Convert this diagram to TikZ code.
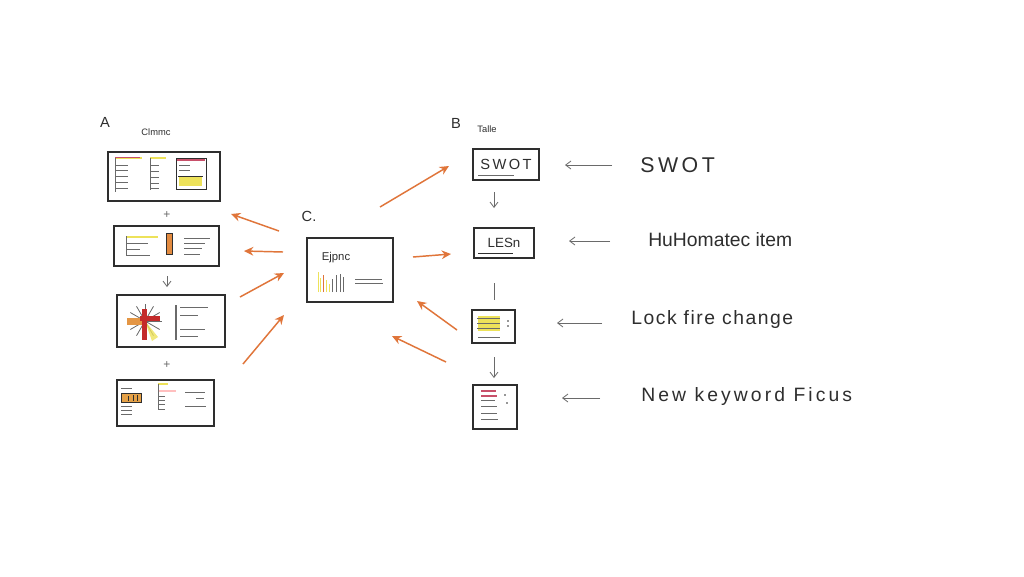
\documentclass[tikz,border=0pt]{standalone}
\usepackage{fontspec}
\setmainfont{Liberation Sans}
\usetikzlibrary{arrows.meta}
\definecolor{ink}{HTML}{2E2E2E}
\definecolor{org}{HTML}{E0753A}
\definecolor{yel}{HTML}{EDE25A}
\definecolor{pinkred}{HTML}{C8506A}
\definecolor{redd}{HTML}{C42A2A}
\definecolor{grl}{HTML}{6A6A6A}
\tikzset{
  box/.style={draw=ink, line width=1.1pt, fill=white, inner sep=0pt},
  oarrow/.style={draw=org, line width=1.1pt, -{Stealth[length=7pt,width=6.5pt]}},
  tarrow/.style={draw=grl, line width=0.6pt, -{Straight Barb[length=4pt,width=6pt]}},
  tline/.style={draw=grl, line width=0.6pt},
  gl/.style={draw=grl, line width=0.6pt},
  lbl/.style={font=\fontsize{11}{13}\selectfont, text=ink, inner sep=0pt},
  tiny/.style={font=\fontsize{7}{8}\selectfont, text=ink, inner sep=0pt},
  side/.style={font=\fontsize{14.5}{17}\selectfont, text=ink, inner sep=0pt, anchor=west},
}
\begin{document}
\begin{tikzpicture}[x=0.75pt,y=-0.75pt]
\useasboundingbox[fill=white] (0,0) rectangle (1024,576);

% ---------- labels
\node[lbl] (la) at (105,122) {A};
\node[tiny] (lcl) at (156,132) {Clmmc};
\node[lbl] (lb) at (456,123) {B};
\node[tiny] (ltab) at (487,129) {Talle};
\node[lbl] (lc) at (309,216) {C.};

% ---------- column A boxes
\node[box, minimum width=84pt, minimum height=36.75pt] (a1) at (164,176.5) {};
\node[box, minimum width=78.75pt, minimum height=30pt] (a2) at (166.5,246) {};
\node[box, minimum width=81pt, minimum height=39pt] (a3) at (171,321) {};
\node[box, minimum width=72.75pt, minimum height=34.5pt] (a4) at (165.5,403) {};

% A1 contents
\draw[yel, line width=1.4pt] (115,158) -- (142,158);
\draw[pinkred, line width=0.5pt] (115,157) -- (140,157);
\foreach \y in {165,170,176,182,188} \draw[gl] (116,\y) -- (128,\y);
\draw[gl] (115,158) -- (115,192);
\draw[yel, line width=1.4pt] (150,158) -- (166,158);
\foreach \y in {165,171,177,183,188} \draw[gl] (151,\y) -- (159,\y);
\draw[gl] (150,158) -- (150,190);
\draw[ink, line width=0.7pt] (176,158) rectangle (206,189);
\draw[pinkred, line width=1pt] (177,160) -- (205,160);
\foreach \y in {165,170} \draw[gl] (179,\y) -- (190,\y);
\fill[yel] (179,177) rectangle (202,186);
\draw[ink, line width=0.5pt] (178,176) -- (203,176);

% A2 contents
\draw[yel, line width=1.6pt] (126,237) -- (158,237);
\draw[gl] (126,236) -- (126,256);
\foreach \y/\l in {243/148,249/140,255/150} \draw[gl] (126,\y) -- (\l,\y);
\draw[ink, fill=org!80!yel, line width=0.6pt] (166,233) rectangle (172,254);
\foreach \y/\l in {238/210,243/205,248/202,254/200} \draw[gl] (184,\y) -- (\l,\y);

% A3 contents
\foreach \a in {0,30,...,330} \draw[gl] (145,321) -- ++(\a:17);
\fill[yel, opacity=0.8] (145,321) -- (158,337) -- (152,341) -- cycle;
\fill[org!70!yel] (127,318) rectangle (145,325);
\fill[redd] (140,316) rectangle (160,321);
\fill[redd] (142,309) rectangle (147,340);
\draw[gl, line width=0.8pt] (176,305) -- (176,340);
\foreach \y/\l in {307/208,315/198,329/205,336/198} \draw[gl] (180,\y) -- (\l,\y);

% A4 contents
\foreach \y in {388,406,410,414} \draw[gl] (121,\y) -- (132,\y);
\fill[org!60!yel] (121,393) rectangle (141,402);
\draw[ink, line width=0.5pt] (121,393) rectangle (141,402);
\draw[ink, line width=0.5pt] (128,396) -- (128,401) (133,395) -- (133,401) (137,395) -- (137,401);
\draw[yel, line width=1.6pt] (158,384) -- (168,384);
\draw[pink, line width=1.6pt] (158,391) -- (176,391);
\draw[gl] (158,384) -- (158,410);
\foreach \y in {396,400,404,409} \draw[gl] (159,\y) -- (165,\y);
\draw[gl] (185,392) -- (205,392);
\draw[gl] (196,398) -- (204,398);
\draw[gl] (185,406) -- (206,406);

% plus signs / arrows between A boxes
\node[font=\fontsize{9}{10}\selectfont, text=grl, inner sep=0pt] (p1) at (167,215) {+};
\node[font=\fontsize{9}{10}\selectfont, text=grl, inner sep=0pt] (p2) at (167,365) {+};
\coordinate (ad1) at (167,276);
\coordinate (ad2) at (167,287);
\draw[tarrow] (ad1) -- (ad2);

% ---------- C box
\node[box, minimum width=64.5pt, minimum height=48pt] (cbox) at (350,270) {};
\node[font=\fontsize{8.5}{10}\selectfont, text=ink, inner sep=0pt] (ctxt) at (336,258) {Ejpnc};
\foreach \x/\h/\c in {318/20/yel,320/14/yel,323/17/org,326/12/yel,329/8/yel,332/13/grl,336/17/grl,340/18/grl,343/15/grl}
  \draw[\c, line width=0.7pt] (\x,292) -- (\x,292-\h);
\draw[gl] (355,279) -- (382,279);
\draw[gl] (355,283) -- (383,283);

% ---------- column B boxes
\node[box, minimum width=49.5pt, minimum height=23.25pt, font=\fontsize{11}{12}\selectfont, text=ink] (b1) at (506,164.5) {S\,W\,O\,T};
\draw[grl, line width=0.5pt] (478,175) -- (514,175);
\node[box, minimum width=45pt, minimum height=22.5pt, font=\fontsize{10}{12}\selectfont, text=ink] (b2) at (504,243) {LESn};
\draw[ink, line width=0.5pt] (478,253) -- (513,253);
\node[box, minimum width=32.25pt, minimum height=24.75pt] (b3) at (493.5,326.5) {};
\fill[yel] (478,316) rectangle (500,331);
\foreach \y in {318,323,328} \draw[grl, line width=0.5pt] (477,\y) -- (500,\y);
\draw[gl] (478,337) -- (500,337);
\fill[ink] (508,321) circle (0.9);
\fill[ink] (508,326) circle (0.9);
\node[box, minimum width=33pt, minimum height=33pt] (b4) at (495,407) {};
\draw[pinkred, line width=1.1pt] (481,391) -- (496,391);
\draw[pinkred, line width=1.1pt] (481,396) -- (497,396);
\foreach \y/\l in {400/495,406/497,413/497,419/498} \draw[gl] (481,\y) -- (\l,\y);
\fill[ink] (505,395) circle (0.9);
\fill[ink] (507,403) circle (0.9);

\coordinate (bd1) at (494,192);
\coordinate (bd2) at (494,208);
\draw[tarrow] (bd1) -- (bd2);
\coordinate (bl1) at (494,283);
\coordinate (bl2) at (494,300);
\draw[tline] (bl1) -- (bl2);
\coordinate (ba1) at (494,357);
\coordinate (ba2) at (494,378);
\draw[tarrow] (ba1) -- (ba2);

% ---------- side texts and thin arrows
\node[side, font=\fontsize{16}{18}\selectfont] (s1) at (640,165) {S\,W\,O\,T};
\node[side] (s2) at (648,240) {HuHomatec item};
\node[side] (s3) at (631,319) {\addfontfeature{LetterSpace=8}Lock fire change};
\node[side] (s4) at (641,396) {\addfontfeature{LetterSpace=16}New keyword Ficus};
\coordinate (t1a) at (612,165); \coordinate (t1b) at (565,165);
\coordinate (t2a) at (610,241); \coordinate (t2b) at (569,241);
\coordinate (t3a) at (602,323); \coordinate (t3b) at (557,323);
\coordinate (t4a) at (600,398); \coordinate (t4b) at (562,398);
\draw[tarrow] (t1a) -- (t1b);
\draw[tarrow] (t2a) -- (t2b);
\draw[tarrow] (t3a) -- (t3b);
\draw[tarrow] (t4a) -- (t4b);

% ---------- orange arrows
\coordinate (o1a) at (279,231); \coordinate (o1b) at (231,214);
\coordinate (o2a) at (283,252); \coordinate (o2b) at (244,251);
\coordinate (o3a) at (240,297); \coordinate (o3b) at (284,273);
\coordinate (o4a) at (243,364); \coordinate (o4b) at (284,315);
\coordinate (o5a) at (380,207); \coordinate (o5b) at (449,166);
\coordinate (o6a) at (413,257); \coordinate (o6b) at (451,254);
\coordinate (o7a) at (457,330); \coordinate (o7b) at (417,301);
\coordinate (o8a) at (446,362); \coordinate (o8b) at (392,336);
\foreach \s in {1,...,8} \draw[oarrow] (o\s a) -- (o\s b);
\end{tikzpicture}
\end{document}
